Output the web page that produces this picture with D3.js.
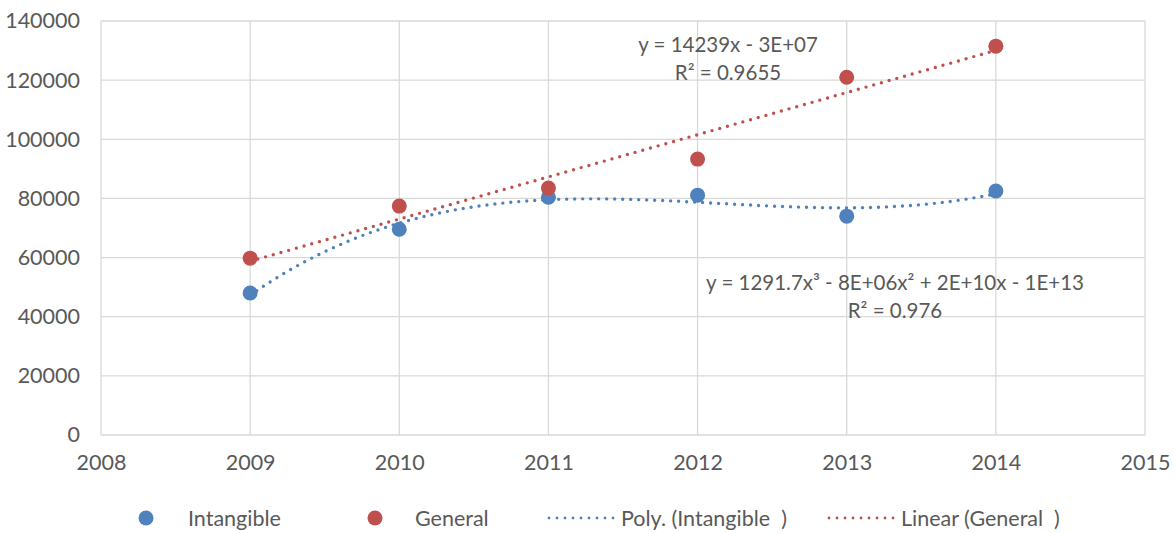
<!DOCTYPE html>
<html>
<head>
<meta charset="utf-8">
<script src="https://cdn.jsdelivr.net/npm/d3@7"></script>
<style>
  body { margin: 0; background: #fff; }
  svg { display: block; font-family: Lato, "Open Sans", sans-serif; }
  text { white-space: pre; }
</style>
</head>
<body>
<div id="chart"></div>
<script>
const years = [2009, 2010, 2011, 2012, 2013, 2014];
const intangible = [48000, 69600, 80400, 81100, 74000, 82500];
const general = [59800, 77400, 83500, 93300, 121000, 131500];
const xTicks = [2008, 2009, 2010, 2011, 2012, 2013, 2014, 2015];
const yTicks = [0, 20000, 40000, 60000, 80000, 100000, 120000, 140000];
const legendLabels = ['Intangible', 'General', 'Poly. (Intangible  )', 'Linear (General  )'];
const linEq = ['y = 14239x - 3E+07', 'R² = 0.9655'];
const polyEq = ['y = 1291.7x³ - 8E+06x² + 2E+10x - 1E+13', 'R² = 0.976'];

const blue = '#4f81bd';
const red = '#c0504d';
const textColor = '#595959';
const gridColor = '#d9d9d9';
const font = 'Lato, "Open Sans", sans-serif';
const fontSize = '21.5px';

const width = 1174, height = 533;
const margin = { left: 101, right: 29, top: 21, bottom: 98 };

const svg = d3.select('#chart').append('svg')
  .attr('width', width)
  .attr('height', height);

const x = d3.scaleLinear().domain([2008, 2015]).range([margin.left, width - margin.right]);
const y = d3.scaleLinear().domain([0, 140000]).range([height - margin.bottom, margin.top]);

// grid
svg.append('g').selectAll('line.h')
  .data(yTicks)
  .enter().append('line')
  .attr('x1', x(2008)).attr('x2', x(2015))
  .attr('y1', d => y(d)).attr('y2', d => y(d))
  .attr('stroke', gridColor).attr('stroke-width', 1.3);

svg.append('g').selectAll('line.v')
  .data(xTicks)
  .enter().append('line')
  .attr('x1', d => x(d)).attr('x2', d => x(d))
  .attr('y1', y(0)).attr('y2', y(140000))
  .attr('stroke', gridColor).attr('stroke-width', 1.3);

// axes labels
const yAxis = svg.append('g')
  .attr('transform', `translate(${margin.left - 21},0)`)
  .call(d3.axisLeft(y).tickValues(yTicks).tickFormat(d3.format('d')).tickSize(0))
  .attr('font-family', font).attr('font-size', fontSize);
yAxis.select('.domain').remove();
yAxis.selectAll('text').attr('fill', textColor).attr('x', 0);

const xAxis = svg.append('g')
  .attr('transform', `translate(0,${y(0) + 20})`)
  .call(d3.axisBottom(x).tickValues(xTicks).tickFormat(d3.format('d')).tickSize(0))
  .attr('font-family', font).attr('font-size', fontSize);
xAxis.select('.domain').remove();
xAxis.selectAll('text').attr('fill', textColor).attr('y', 0).attr('dy', '0.71em');

// least squares fit (centered x) for trendlines
const fit = (xs, ys, deg) => {
  const mx = d3.mean(xs);
  const n = deg + 1;
  const A = Array.from({ length: n }, () => new Array(n + 1).fill(0));
  xs.forEach((xv, k) => {
    const t = xv - mx;
    for (let i = 0; i < n; i++) {
      for (let j = 0; j < n; j++) A[i][j] += Math.pow(t, i + j);
      A[i][n] += ys[k] * Math.pow(t, i);
    }
  });
  for (let i = 0; i < n; i++) {
    let p = i;
    for (let r = i + 1; r < n; r++) if (Math.abs(A[r][i]) > Math.abs(A[p][i])) p = r;
    [A[i], A[p]] = [A[p], A[i]];
    for (let r = 0; r < n; r++) {
      if (r === i) continue;
      const f = A[r][i] / A[i][i];
      for (let c = i; c <= n; c++) A[r][c] -= f * A[i][c];
    }
  }
  const coef = A.map((row, i) => row[n] / row[i]);
  return xv => coef.reduce((s, c, i) => s + c * Math.pow(xv - mx, i), 0);
};

const polyFn = fit(years, intangible, 3);
const linFn = fit(years, general, 1);
const samples = d3.range(0, 121).map(i => 2009 + i * 5 / 120);

const line = d3.line().x(d => x(d[0])).y(d => y(d[1]));

const dotted = (sel, color) => sel
  .attr('fill', 'none')
  .attr('stroke', color)
  .attr('stroke-width', 3.4)
  .attr('stroke-linecap', 'round')
  .attr('stroke-dasharray', '0 8');

svg.append('path')
  .attr('d', line(samples.map(t => [t, polyFn(t)])))
  .call(dotted, blue);

svg.append('path')
  .attr('d', line([[2009, linFn(2009)], [2014, linFn(2014)]]))
  .call(dotted, red);

// points
svg.append('g').selectAll('circle')
  .data(years.map((yr, i) => [yr, intangible[i]]))
  .enter().append('circle')
  .attr('cx', d => x(d[0])).attr('cy', d => y(d[1]))
  .attr('r', 7.5).attr('fill', blue);

svg.append('g').selectAll('circle')
  .data(years.map((yr, i) => [yr, general[i]]))
  .enter().append('circle')
  .attr('cx', d => x(d[0])).attr('cy', d => y(d[1]))
  .attr('r', 7.5).attr('fill', red);

// trendline equations
const eqText = (lines, cx, cy) => {
  const t = svg.append('text')
    .attr('text-anchor', 'middle')
    .attr('fill', textColor)
    .style('font-size', '20.5px');
  lines.forEach((s, i) => {
    t.append('tspan').attr('x', cx).attr('y', cy + i * 28).text(s);
  });
};
eqText(linEq, 728, 52);
eqText(polyEq, 895, 290);

// legend
const legY = 518;
const legend = svg.append('g').style('font-size', fontSize);
legend.append('circle').attr('cx', 146).attr('cy', legY).attr('r', 7.5).attr('fill', blue);
legend.append('text').attr('x', 188).attr('y', legY).attr('dy', '0.35em')
  .attr('fill', textColor).text(legendLabels[0]);
legend.append('circle').attr('cx', 375).attr('cy', legY).attr('r', 7.5).attr('fill', red);
legend.append('text').attr('x', 415).attr('y', legY).attr('dy', '0.35em')
  .attr('fill', textColor).text(legendLabels[1]);
legend.append('line').attr('x1', 549).attr('x2', 614).attr('y1', legY).attr('y2', legY)
  .call(dotted, blue).attr('stroke-width', 2.8);
legend.append('text').attr('x', 621).attr('y', legY).attr('dy', '0.35em')
  .attr('fill', textColor).text(legendLabels[2]);
legend.append('line').attr('x1', 829).attr('x2', 894).attr('y1', legY).attr('y2', legY)
  .call(dotted, red).attr('stroke-width', 2.8);
legend.append('text').attr('x', 901).attr('y', legY).attr('dy', '0.35em')
  .attr('fill', textColor).text(legendLabels[3]);
</script>
</body>
</html>
